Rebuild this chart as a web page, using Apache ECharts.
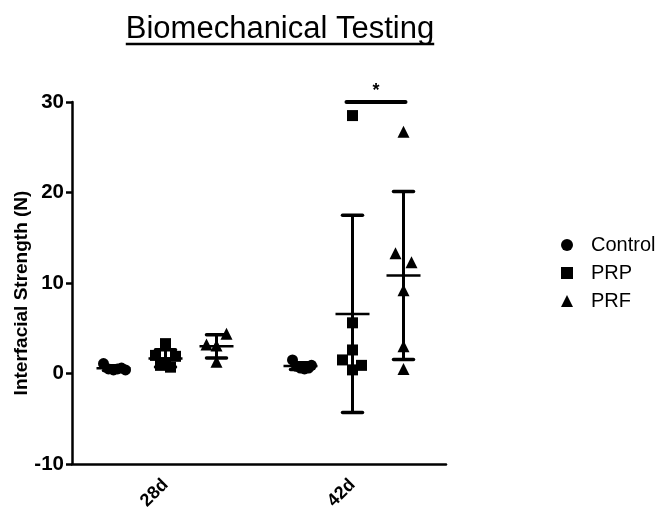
<!DOCTYPE html>
<html><head><meta charset="utf-8">
<script src="https://cdn.jsdelivr.net/npm/echarts@6/dist/echarts.min.js"></script>
<style>html,body{margin:0;padding:0;background:#fff}#c{width:662px;height:513px}</style>
</head><body><div id="c"></div>
<script>
// ---------- data ----------
const categories = ['28d', '42d'];
const seriesNames = ['Control', 'PRP', 'PRF'];
const controlValues = [[1.1, 0.5, 0.4, 0.5, 0.6, 0.4], [1.5, 0.8, 0.6, 0.5, 0.6, 0.9]];
const prpValues = [[3.3, 2.0, 1.9, 0.9, 0.7, 1.2], [28.5, 5.6, 2.6, 1.5, 0.9, 0.4]];
const prfValues = [[4.4, 3.2, 3.1, 1.3], [26.7, 13.3, 12.3, 9.2, 3.0, 0.5]];
const yTicks = [-10, 0, 10, 20, 30];
const sigCategory = '42d';
const sigFrom = 'PRP';
const sigTo = 'PRF';
const sigLevel = 30;
const sigLabel = '*';
const titleText = 'Biomechanical Testing';
const yName = 'Interfacial Strength (N)';

// ---------- layout / style ----------
const allValues = [controlValues, prpValues, prfValues];
const groupOffsetPx = [-52, 0, 51];
const jitterPx = [
  [[-10, -5, 0, 4, 8, 12], [-8, -4, 0, 4, 8, 11]],
  [[0, -10, 10, -5, 5, 0], [0, 0, 0, -10, 9, 0]],
  [[10, -10, 0, 0], [0, -8, 8, 0, 0, 0]]
];
const symbols = ['circle', 'rect', 'triangle'];
const symbolSizes = [11, 11, 12];
const FONT = '"Liberation Sans", Arial, Helvetica, sans-serif';

function mean(a) { return a.reduce((s, v) => s + v, 0) / a.length; }
function sd(a) { const m = mean(a); return Math.sqrt(a.reduce((s, v) => s + (v - m) * (v - m), 0) / (a.length - 1)); }

const scatterSeries = seriesNames.map((name, si) => ({
  name: name,
  type: 'scatter',
  symbol: symbols[si],
  symbolSize: symbolSizes[si],
  itemStyle: { color: '#000', opacity: 1 },
  z: 3,
  clip: false,
  data: categories.flatMap((c, ci) => allValues[si][ci].map((v, k) => ({
    value: [ci, v],
    symbolOffset: [groupOffsetPx[si] + jitterPx[si][ci][k], 0]
  })))
}));

const statsData = [];
categories.forEach((c, ci) => seriesNames.forEach((n, si) => {
  const arr = allValues[si][ci];
  statsData.push([ci, si, mean(arr), sd(arr)]);
}));

const errorSeries = {
  type: 'custom',
  name: 'errors',
  z: 4,
  data: statsData,
  renderItem: function (params, api) {
    const ci = api.value(0), si = api.value(1), m = api.value(2), s = api.value(3);
    const top = api.coord([ci, m + s]);
    const bot = api.coord([ci, m - s]);
    const mid = api.coord([ci, m]);
    const x = top[0] + groupOffsetPx[si];
    const capW = 10, meanW = 17;
    const st = { stroke: '#000', lineWidth: 3.5, lineCap: 'round' };
    return {
      type: 'group', children: [
        { type: 'line', shape: { x1: x, y1: top[1], x2: x, y2: bot[1] }, style: { stroke: '#000', lineWidth: 3 } },
        { type: 'line', shape: { x1: x - capW, y1: top[1], x2: x + capW, y2: top[1] }, style: st },
        { type: 'line', shape: { x1: x - capW, y1: bot[1], x2: x + capW, y2: bot[1] }, style: st },
        { type: 'line', shape: { x1: x - meanW, y1: mid[1], x2: x + meanW, y2: mid[1] }, style: { stroke: '#000', lineWidth: 2.5 } }
      ]
    };
  }
};

const sigSeries = {
  type: 'custom',
  name: 'sig',
  z: 5,
  data: [[categories.indexOf(sigCategory), sigLevel]],
  renderItem: function (params, api) {
    const p = api.coord([api.value(0), api.value(1)]);
    const x1 = p[0] + groupOffsetPx[seriesNames.indexOf(sigFrom)] - 6;
    const x2 = p[0] + groupOffsetPx[seriesNames.indexOf(sigTo)] + 2;
    return {
      type: 'group', children: [
        { type: 'line', shape: { x1: x1, y1: p[1], x2: x2, y2: p[1] }, style: { stroke: '#000', lineWidth: 4, lineCap: 'round' } },
        { type: 'text', x: (x1 + x2) / 2, y: p[1] - 11, style: { text: sigLabel, font: 'bold 18px ' + FONT, fill: '#000', align: 'center', verticalAlign: 'middle' } }
      ]
    };
  }
};

// title underline width via canvas measure
const TITLE_FONT = '31px ' + FONT;
const mctx = document.createElement('canvas').getContext('2d');
mctx.font = TITLE_FONT;
const titleW = mctx.measureText(titleText).width;
const titleX = 280;

const chart = echarts.init(document.getElementById('c'), null, { renderer: 'canvas' });
chart.setOption({
  animation: false,
  backgroundColor: '#fff',
  textStyle: { fontFamily: FONT },
  graphic: [
    { type: 'text', x: titleX, y: 29, style: { text: titleText, font: TITLE_FONT, fill: '#000', align: 'center', verticalAlign: 'middle' } },
    { type: 'line', shape: { x1: titleX - titleW / 2, y1: 44, x2: titleX + titleW / 2, y2: 44 }, style: { stroke: '#000', lineWidth: 2.5 } }
  ],
  grid: { left: 72, top: 102, bottom: 49, width: 374, containLabel: false, outerBoundsMode: 'none' },
  legend: {
    orient: 'vertical',
    left: 556,
    top: 230,
    itemWidth: 12,
    itemHeight: 12,
    itemGap: 8,
    data: seriesNames.map((n, i) => ({ name: n, icon: symbols[i] })),
    textStyle: { fontSize: 20, color: '#000', fontFamily: FONT, padding: [0, 0, 0, 13] },
    itemStyle: { color: '#000' },
    selectedMode: false
  },
  xAxis: {
    type: 'category',
    data: categories,
    boundaryGap: true,
    axisLine: { onZero: false, lineStyle: { color: '#000', width: 2.5 } },
    axisTick: { alignWithLabel: true, length: 6, lineStyle: { color: '#000', width: 2.5 } },
    axisLabel: { rotate: 45, fontWeight: 'bold', fontSize: 18, color: '#000', margin: 18, fontFamily: FONT },
    splitLine: { show: false }
  },
  yAxis: {
    type: 'value',
    min: yTicks[0],
    max: yTicks[yTicks.length - 1],
    interval: yTicks[1] - yTicks[0],
    name: yName,
    nameLocation: 'middle',
    nameGap: 41,
    nameMoveOverlap: false,
    nameTextStyle: { fontWeight: 'bold', fontSize: 19, color: '#000', fontFamily: FONT, padding: [0, 20, 0, 0] },
    axisLine: { show: true, lineStyle: { color: '#000', width: 2.5 } },
    axisTick: { show: true, length: 6, lineStyle: { color: '#000', width: 2.5 } },
    axisLabel: { fontWeight: 'bold', fontSize: 20.5, color: '#000', margin: 8, fontFamily: FONT },
    splitLine: { show: false }
  },
  series: [...scatterSeries, errorSeries, sigSeries]
});
</script>
</body></html>
